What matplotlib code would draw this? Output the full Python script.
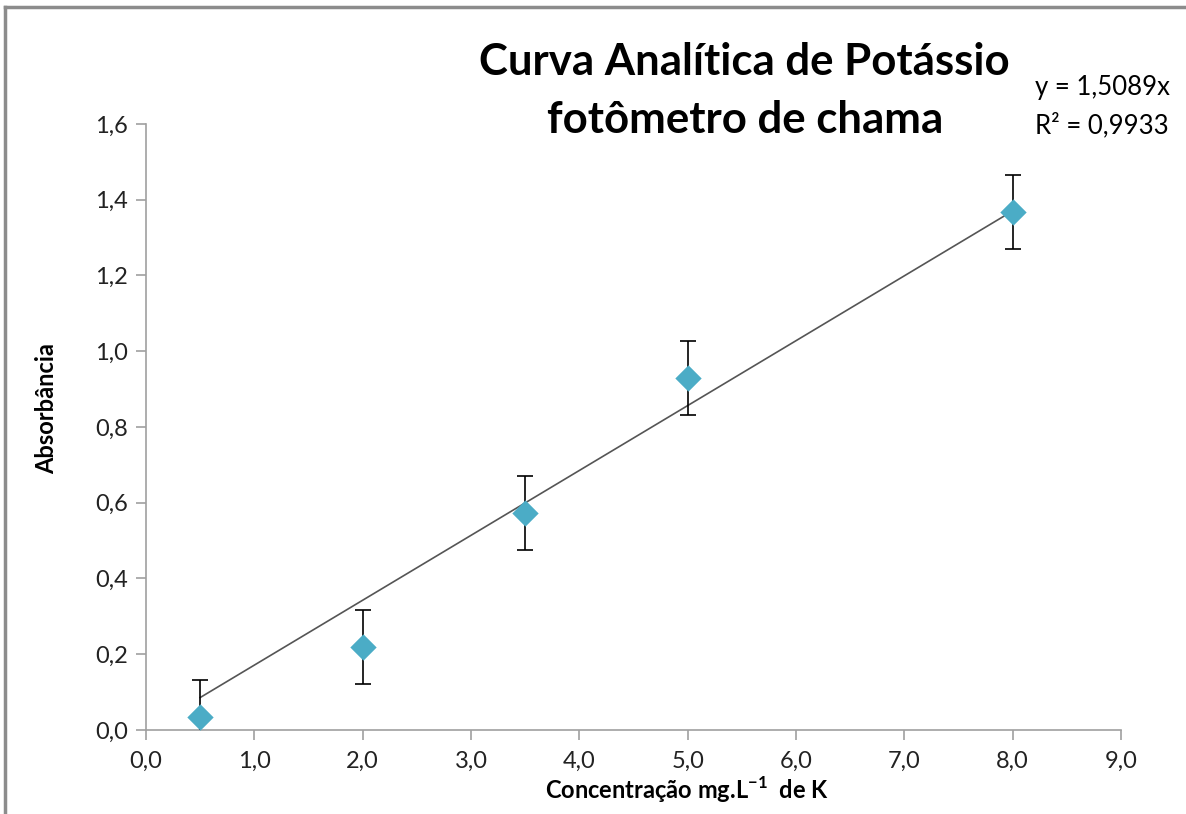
import matplotlib
matplotlib.use("Agg")
import matplotlib.pyplot as plt
from matplotlib.ticker import FuncFormatter, MultipleLocator
from matplotlib.lines import Line2D
import numpy as np

# data
conc = [0.5, 2.0, 3.5, 5.0, 8.0]
absorb = [0.034, 0.219, 0.573, 0.929, 1.368]
err = [0.097, 0.097, 0.097, 0.097, 0.097]
slope = 0.1713  # trend line through origin, as drawn

plt.rcParams['font.family'] = ['Lato', 'DejaVu Sans']
plt.rcParams['mathtext.fontset'] = 'custom'
plt.rcParams['mathtext.rm'] = 'Lato'
plt.rcParams['mathtext.bf'] = 'Lato:bold'

fig = plt.figure(figsize=(11.86, 8.14), dpi=100)
ax = fig.add_axes([0.1231, 0.1032, 0.8221, 0.7445])

# outer frame (top + left grey border)
fig.add_artist(Line2D([0.004, 1.0], [0.991, 0.991], color='#8c8c8c', lw=2.5, transform=fig.transFigure))
fig.add_artist(Line2D([0.004, 0.004], [0.0, 0.991], color='#8c8c8c', lw=2.5, transform=fig.transFigure))

xs = np.array([conc[0], conc[-1]])
ax.plot(xs, slope * xs, color='#555555', lw=1.2, zorder=2)

ax.errorbar(conc, absorb, yerr=err, fmt='none', ecolor='black', elinewidth=1.2,
            capsize=6, capthick=1.2, zorder=3)
ax.scatter(conc, absorb, marker='D', s=180, color='#4bacc6', zorder=4, linewidths=0)

ax.set_xlim(0, 9)
ax.set_ylim(0, 1.6)
ax.xaxis.set_major_locator(MultipleLocator(1.0))
ax.yaxis.set_major_locator(MultipleLocator(0.2))
fmt = FuncFormatter(lambda v, p: f"{v:.1f}".replace('.', ','))
ax.xaxis.set_major_formatter(fmt)
ax.yaxis.set_major_formatter(fmt)

for s in ['top', 'right']:
    ax.spines[s].set_visible(False)
for s in ['left', 'bottom']:
    ax.spines[s].set_color('#a0a0a0')
    ax.spines[s].set_linewidth(1.2)
ax.tick_params(axis='both', colors='#a0a0a0', labelcolor='#222222', labelsize=17,
               length=7, width=1.2, direction='out')
ax.tick_params(axis='x', pad=8)
ax.tick_params(axis='y', pad=6)

ax.set_ylabel("Absorbância", fontsize=17, fontweight='bold')
ax.set_xlabel(r"Concentração mg.L$^{\mathbf{-1}}$  de K", fontsize=17, fontweight='bold')
ax.yaxis.set_label_coords(-0.09, 0.531)
ax.xaxis.set_label_coords(0.555, -0.074)

fig.text(0.628, 0.924, "Curva Analítica de Potássio", fontsize=31.5, fontweight='bold',
         ha='center', va='center')
fig.text(0.628, 0.852, "fotômetro de chama", fontsize=31.5, fontweight='bold',
         ha='center', va='center')

fig.text(0.873, 0.892, "y = 1,5089x", fontsize=18.5, ha='left', va='center')
fig.text(0.873, 0.846, "R² = 0,9933", fontsize=18.5, ha='left', va='center')

fig.savefig("out.png", dpi=100, facecolor='white')
